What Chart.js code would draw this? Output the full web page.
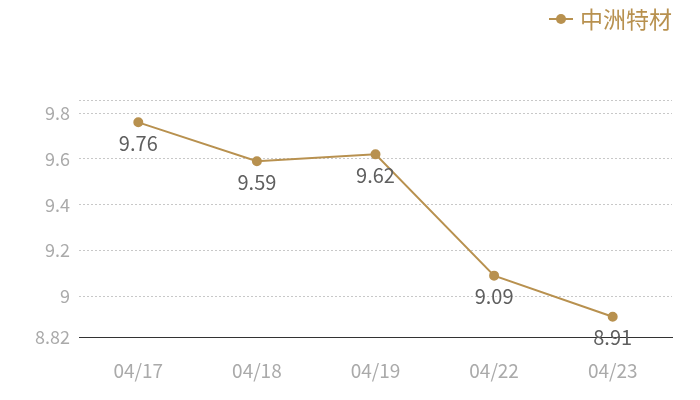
<!DOCTYPE html>
<html>
<head>
<meta charset="utf-8">
<script src="https://cdn.jsdelivr.net/npm/chart.js@4"></script>
<style>
html,body{margin:0;padding:0;background:#fff;}
#wrap{width:700px;height:400px;}
</style>
</head>
<body>
<div id="wrap"><canvas id="c"></canvas></div>
<script>
const categories = ['04/17', '04/18', '04/19', '04/22', '04/23'];
const seriesName = '中洲特材';
const values = [9.76, 9.59, 9.62, 9.09, 8.91];
const yTickValues = [9, 9.2, 9.4, 9.6, 9.8];

const GOLD = '#B8914F';
const FONT = '"Noto Sans CJK SC", "Noto Sans", sans-serif';

const yMin = Math.min(...values) * 0.99;
const yMax = Math.max(...values) * 1.01;

const labelPlugin = {
  id: 'valueLabels',
  afterDatasetsDraw(chart) {
    const ctx = chart.ctx;
    const meta = chart.getDatasetMeta(0);
    ctx.save();
    ctx.font = '20px ' + FONT;
    ctx.fillStyle = '#5f5f5f';
    ctx.textAlign = 'center';
    ctx.textBaseline = 'middle';
    meta.data.forEach((pt, i) => {
      ctx.fillText(values[i].toFixed(2), pt.x, pt.y + 21);
    });
    ctx.restore();
  }
};

const legendPlugin = {
  id: 'customLegend',
  afterDraw(chart) {
    const ctx = chart.ctx;
    ctx.save();
    const cy = 19;
    ctx.strokeStyle = GOLD; ctx.lineWidth = 2;
    ctx.beginPath(); ctx.moveTo(549, cy); ctx.lineTo(573, cy); ctx.stroke();
    ctx.fillStyle = GOLD;
    ctx.beginPath(); ctx.arc(561, cy, 5, 0, Math.PI * 2); ctx.fill();
    ctx.font = '23px ' + FONT;
    ctx.textAlign = 'left';
    ctx.textBaseline = 'middle';
    ctx.fillText(seriesName, 580, cy);
    ctx.restore();
  }
};

new Chart(document.getElementById('c'), {
  type: 'line',
  data: {
    labels: categories,
    datasets: [{
      label: seriesName,
      data: values,
      borderColor: GOLD,
      backgroundColor: GOLD,
      borderWidth: 2,
      pointRadius: 4,
      pointHoverRadius: 4,
      pointBackgroundColor: GOLD,
      pointBorderColor: GOLD,
      tension: 0
    }]
  },
  options: {
    responsive: true,
    maintainAspectRatio: false,
    animation: false,
    layout: { padding: { left: 0, right: 28, top: 100, bottom: -4 } },
    plugins: {
      legend: { display: false },
      tooltip: { enabled: false }
    },
    scales: {
      x: {
        offset: true,
        grid: { display: false, drawTicks: false },
        border: { display: true, color: '#333333', width: 1 },
        ticks: { color: '#aaaaaa', font: { size: 19, family: FONT }, padding: 22 }
      },
      y: {
        min: yMin,
        max: yMax,
        afterFit(scale) { scale.width = 79; },
        afterBuildTicks(scale) {
          scale.ticks = [{ value: yMin }].concat(yTickValues.map(v => ({ value: v }))).concat([{ value: yMax }]);
        },
        grid: {
          color: (c) => (c.tick && c.tick.value === yMin) ? 'rgba(0,0,0,0)' : '#c8c8c8',
          drawTicks: false
        },
        border: { display: false, dash: [2, 2] },
        ticks: {
          color: '#aaaaaa',
          font: { size: 18, family: FONT },
          padding: 9,
          callback(v) {
            if (v === yMax) return '';
            if (v === yMin) return v.toFixed(2);
            return String(Math.round(v * 10) / 10);
          }
        }
      }
    }
  },
  plugins: [labelPlugin, legendPlugin]
});
</script>
</body>
</html>
